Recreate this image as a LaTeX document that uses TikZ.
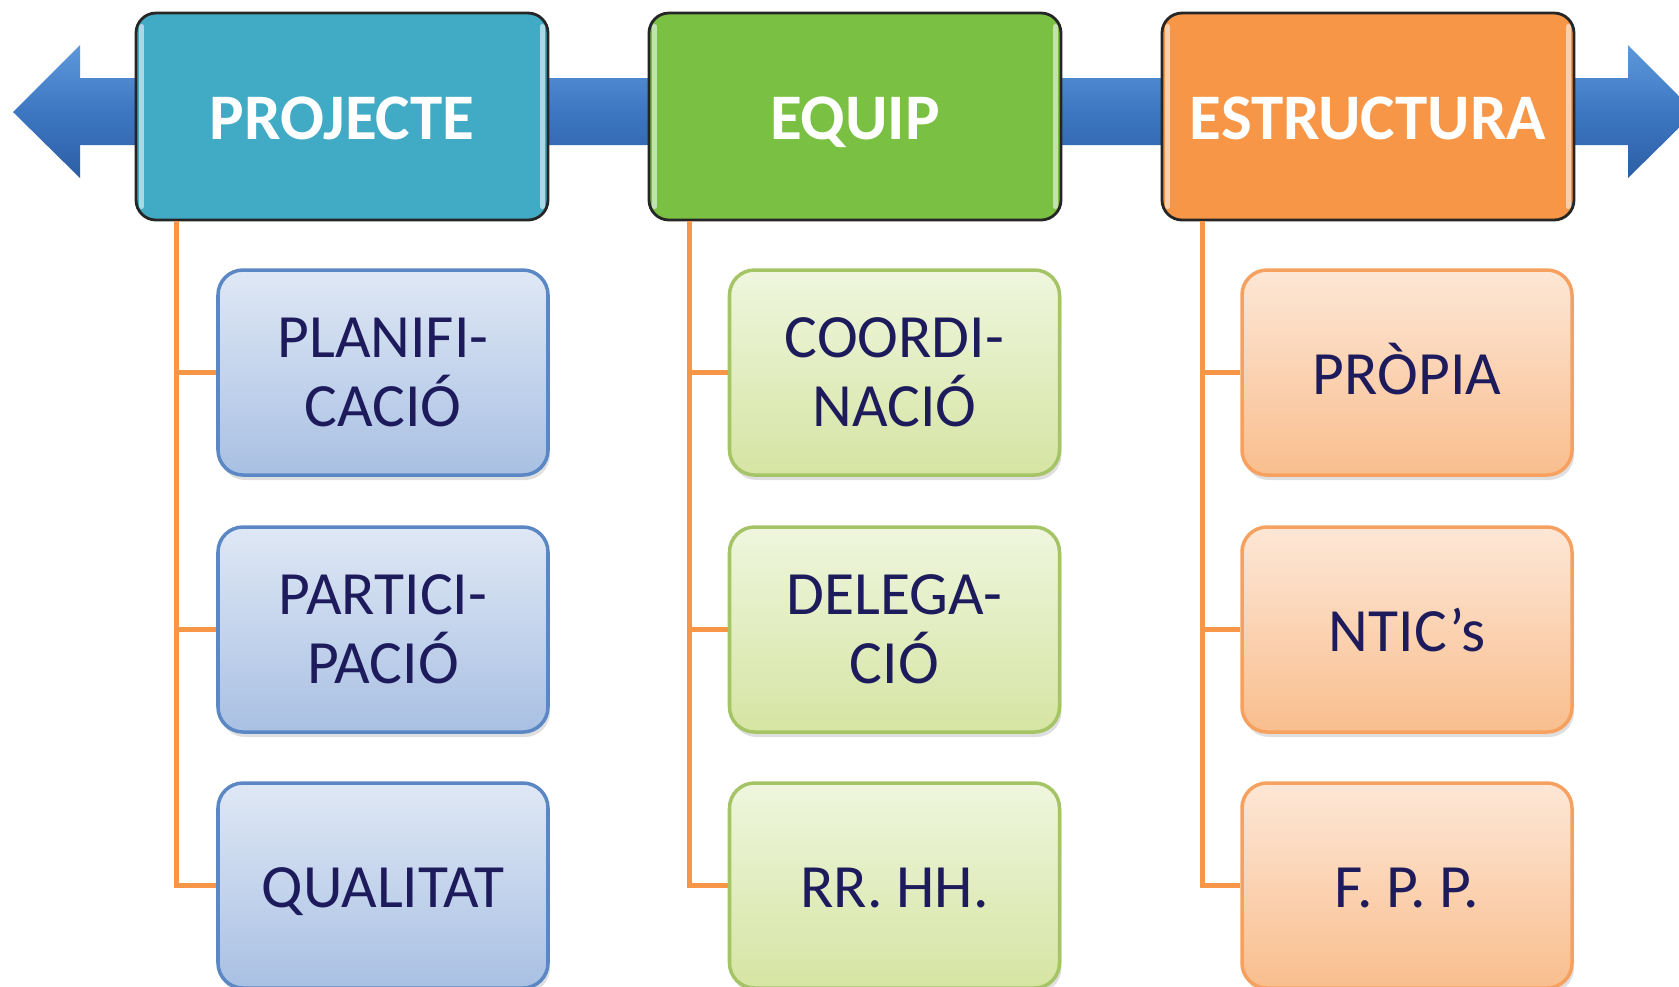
\documentclass[tikz,border=0pt]{standalone}
\usepackage{fontspec}
\setmainfont{Carlito}
\usepackage{tikz}
\usetikzlibrary{shadows}
\usetikzlibrary{calc}

\definecolor{projcol}{HTML}{41ABC6}
\definecolor{equipcol}{HTML}{7AC143}
\definecolor{estrcol}{HTML}{F79646}
\definecolor{navytext}{HTML}{1D1B5B}
\definecolor{linkcol}{HTML}{F79646}
\definecolor{arrowtop}{HTML}{5E98DA}
\definecolor{arrowmid}{HTML}{3D77C2}
\definecolor{arrowbot}{HTML}{2C5FA5}
\definecolor{blueline}{HTML}{5B87C4}
\definecolor{bluetop}{HTML}{DFE8F5}
\definecolor{bluebot}{HTML}{A9C0E3}
\definecolor{greentop}{HTML}{EFF6DE}
\definecolor{greenbot}{HTML}{D6E4A3}
\definecolor{greenline}{HTML}{A5C465}
\definecolor{orangetop}{HTML}{FDE7D6}
\definecolor{orangebot}{HTML}{F9BE8E}
\definecolor{orangeline}{HTML}{F7A160}

\tikzset{
  head/.style={rounded corners=0.2cm, draw=black!85, line width=0.8pt,
    minimum width=4.12cm, minimum height=2.07cm, text=white,
    text height=13pt, text depth=0pt,
    font=\bfseries\fontsize{18.5}{20}\selectfont},
  item/.style={rounded corners=0.25cm, line width=1pt, align=center,
    minimum width=3.30cm, minimum height=2.05cm, text=navytext,
    font=\fontsize{17.5}{19.5}\selectfont,
    drop shadow={opacity=0.25, shadow xshift=0.02cm, shadow yshift=-0.05cm}},
  oneline/.style={text height=12.6pt, text depth=0pt},
  blueitem/.style={item, draw=blueline, top color=bluetop, bottom color=bluebot},
  greenitem/.style={item, draw=greenline, top color=greentop, bottom color=greenbot},
  orangeitem/.style={item, draw=orangeline, top color=orangetop, bottom color=orangebot},
  link/.style={draw=linkcol, line width=1.6pt},
}

\begin{document}
\begin{tikzpicture}[x=1cm,y=1cm]
\useasboundingbox (0,0) rectangle (16.79,-9.86);

%the blue double arrow behind the headers
\shade[top color=arrowtop, bottom color=arrowbot, middle color=arrowmid]
  (0.13,-1.12) -- (0.80,-0.45) -- (0.80,-0.78) -- (16.28,-0.78) -- (16.28,-0.45)
  -- (16.95,-1.12) -- (16.28,-1.78) -- (16.28,-1.45) -- (0.80,-1.45) -- (0.80,-1.78) -- cycle;

%headers
\node[head, fill=projcol] (proj) at (3.42,-1.165) {PROJECTE};
\node[head, fill=equipcol] (equip) at (8.55,-1.165) {EQUIP};
\node[head, fill=estrcol] (estr) at (13.68,-1.165) {ESTRUCTURA};

%glossy edges of the headers
\foreach \h in {proj,equip,estr}{
  \draw[white, opacity=0.55, line width=1.5pt, line cap=round]
    ($(\h.north west)+(0.07,-0.15)$) -- ($(\h.south west)+(0.07,0.15)$);
  \draw[white, opacity=0.55, line width=1.5pt, line cap=round]
    ($(\h.north east)+(-0.07,-0.15)$) -- ($(\h.south east)+(-0.07,0.15)$);
}

%first column
\node[blueitem] (plan) at (3.83,-3.725) {PLANIFI-\\CACIÓ};
\node[blueitem] (part) at (3.83,-6.295) {PARTICI-\\PACIÓ};
\node[blueitem, oneline] (qual) at (3.83,-8.855) {QUALITAT};

%second column
\node[greenitem] (coord) at (8.945,-3.725) {COORDI-\\NACIÓ};
\node[greenitem] (deleg) at (8.945,-6.295) {DELEGA-\\CIÓ};
\node[greenitem, oneline] (rrhh) at (8.945,-8.855) {RR. HH.};

%third column
\node[orangeitem, oneline] (propia) at (14.07,-3.725) {PRÒPIA};
\node[orangeitem, oneline] (ntic) at (14.07,-6.295) {NTIC’s};
\node[orangeitem, oneline] (fpp) at (14.07,-8.855) {F. P. P.};

%orange connectors
\foreach \h/\a/\b/\c in {proj/plan/part/qual, equip/coord/deleg/rrhh, estr/propia/ntic/fpp}{
  \coordinate (\h-root) at ($(\h.south west)+(0.42,0)$);
  \draw[link] (\h-root) |- (\c.west);
  \draw[link] (\h-root) |- (\a.west);
  \draw[link] (\h-root) |- (\b.west);
}

\end{tikzpicture}
\end{document}
